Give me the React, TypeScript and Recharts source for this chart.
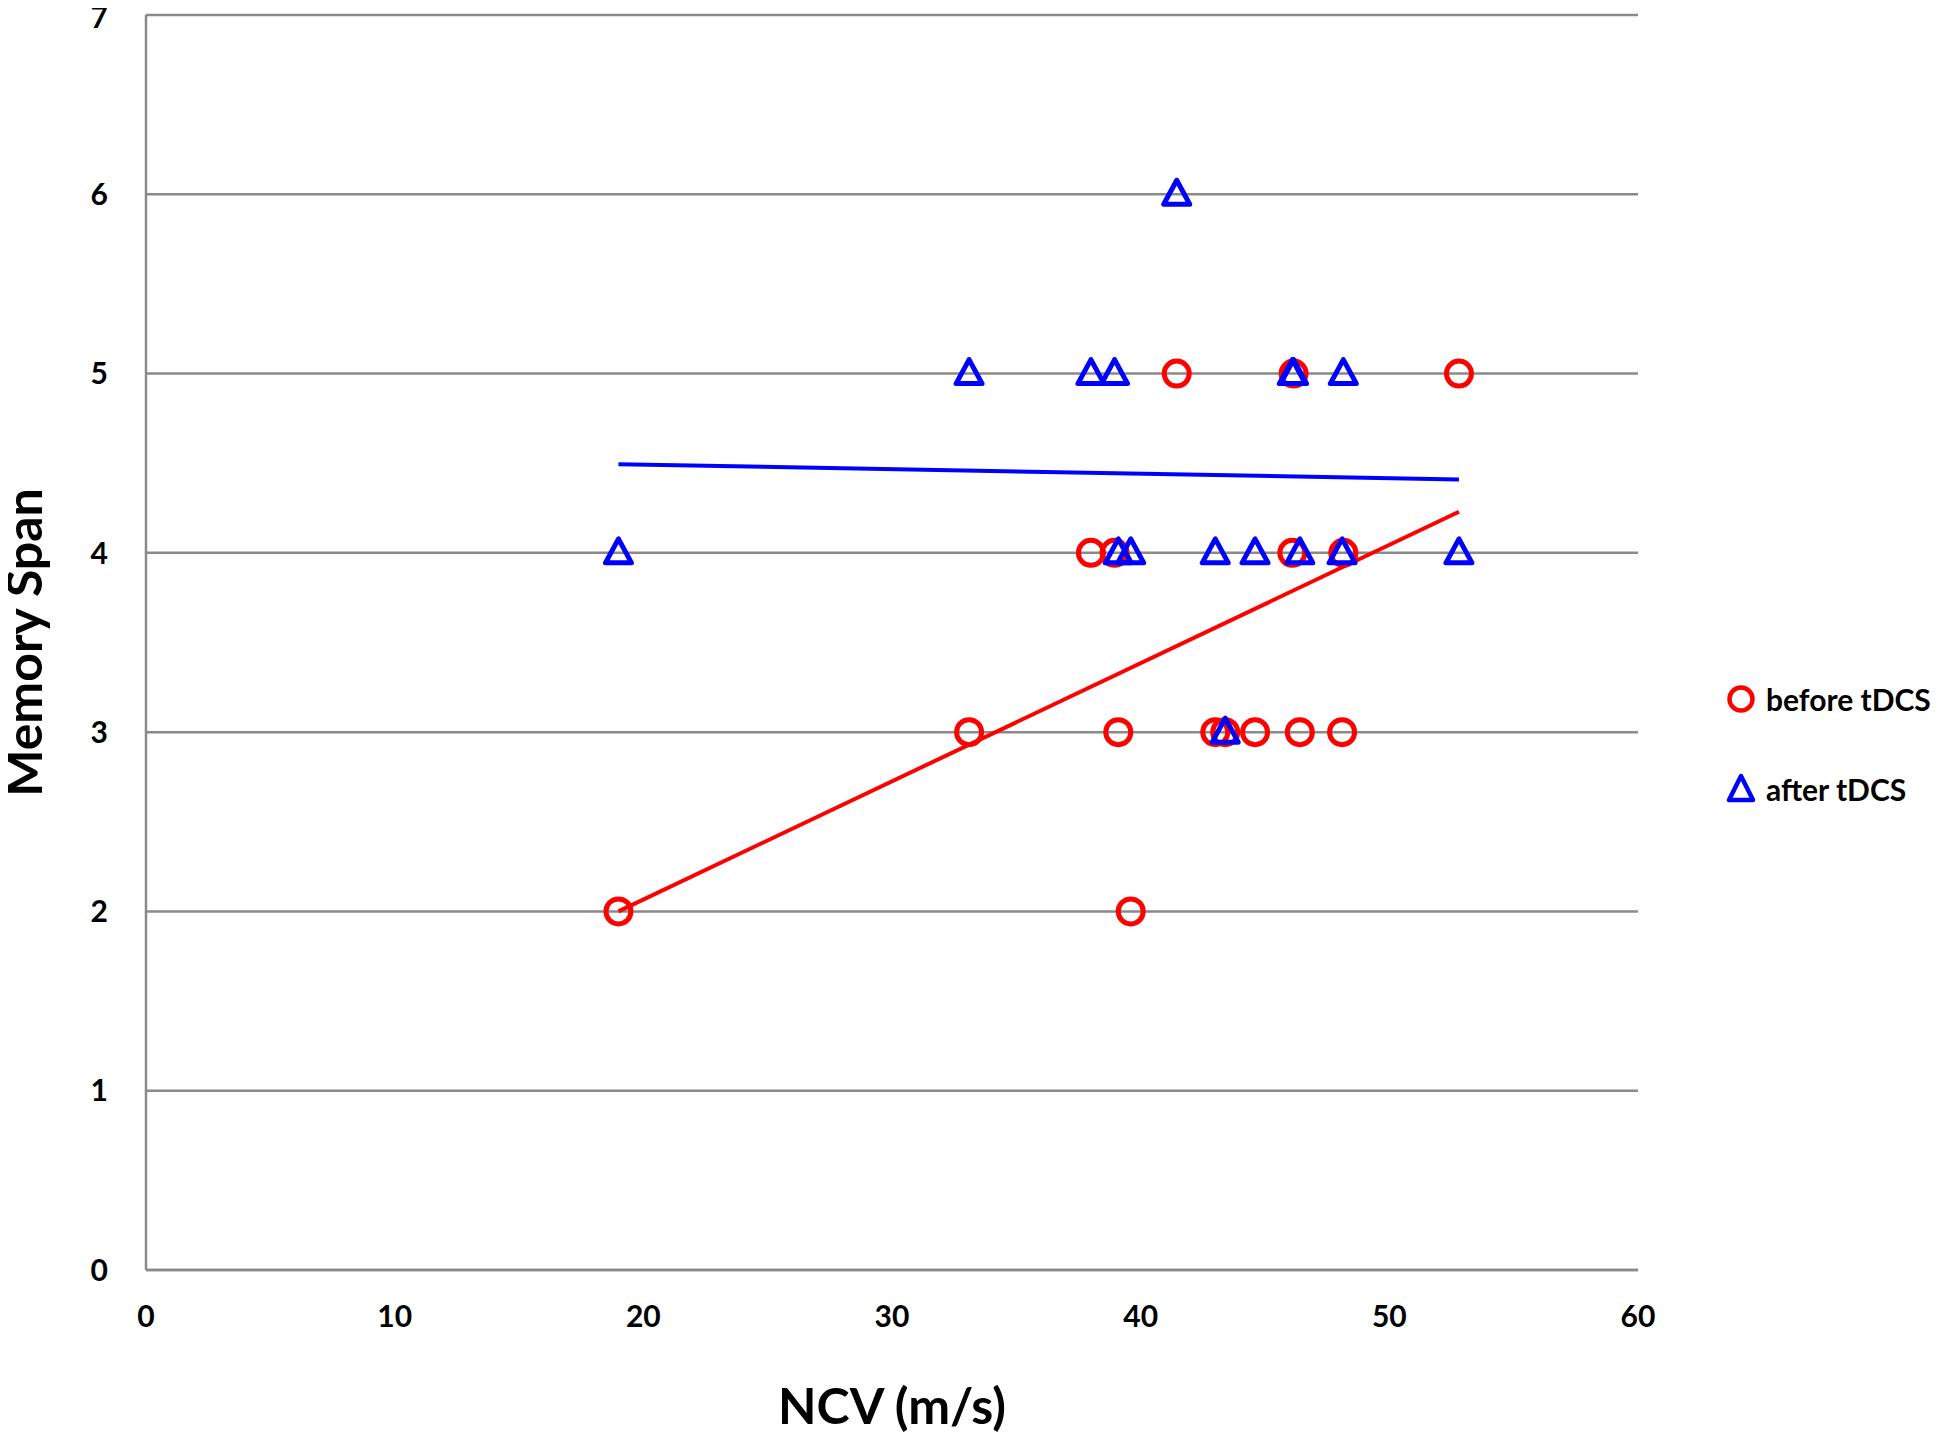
import React from "react";
import {
  ComposedChart, Scatter, XAxis, YAxis, CartesianGrid,
} from "recharts";

// NCV of each subject (m/s) and memory span before / after tDCS
const ncv = [19.0, 33.1, 38.0, 38.95, 39.1, 39.6, 41.45, 43.0, 43.4, 44.6, 46.1, 46.15, 46.4, 48.1, 48.15, 52.8];
const spanBefore = [2, 3, 4, 4, 3, 2, 5, 3, 3, 3, 4, 5, 3, 3, 4, 5];
const spanAfter = [4, 5, 5, 5, 4, 4, 6, 4, 3, 4, 5, 5, 4, 4, 5, 4];

const xTicks = [0, 10, 20, 30, 40, 50, 60];
const yTicks = [0, 1, 2, 3, 4, 5, 6, 7];

const FONT = "Lato, 'Open Sans', sans-serif";
const RED = "#ff0000";
const BLUE = "#0000ff";
const GRID = "#8a8a8a";

const before = ncv.map((x, i) => ({ x, y: spanBefore[i] }));
const after = ncv.map((x, i) => ({ x, y: spanAfter[i] }));

// least-squares trend line over the range of the data
function trend(pts: { x: number; y: number }[]) {
  const n = pts.length;
  const mx = pts.reduce((s, p) => s + p.x, 0) / n;
  const my = pts.reduce((s, p) => s + p.y, 0) / n;
  let sxy = 0, sxx = 0;
  pts.forEach((p) => { sxy += (p.x - mx) * (p.y - my); sxx += (p.x - mx) ** 2; });
  const b = sxy / sxx;
  const a = my - b * mx;
  const lo = Math.min(...pts.map((p) => p.x));
  const hi = Math.max(...pts.map((p) => p.x));
  return [{ x: lo, y: a + b * lo }, { x: hi, y: a + b * hi }];
}

const trendBefore = trend(before);
const trendAfter = trend(after);

const Ring = ({ cx, cy }: any) => (
  <circle cx={cx} cy={cy} r={12.5} fill="none" stroke={RED} strokeWidth={5} />
);

const Tri = ({ cx, cy }: any) => (
  <polygon
    points={`${cx},${cy - 14} ${cx - 13},${cy + 10} ${cx + 13},${cy + 10}`}
    fill="none" stroke={BLUE} strokeWidth={5} strokeLinejoin="round"
  />
);

const Nothing = () => <g />;

const tick = { fontSize: 30, fontWeight: 700, fill: "#000", fontFamily: FONT };

export default function App() {
  // pulled over the body margin so chart pixels match the page
  return (
    <div style={{ position: "relative", width: 1950, height: 1437, margin: "-8px 0 0 -8px" }}>
      <ComposedChart
        width={1950} height={1437}
        margin={{ top: 15, right: 312, left: 0, bottom: 67 }}
      >
        <CartesianGrid vertical={false} stroke={GRID} strokeWidth={2.5} />
        <XAxis
          type="number" dataKey="x" domain={[0, 60]} ticks={xTicks}
          height={100} tick={tick} tickLine={false} tickSize={0} tickMargin={36}
          axisLine={{ stroke: GRID, strokeWidth: 2.5 }}
          label={({ viewBox }: any) => (
            <text x={viewBox.x + viewBox.width / 2} y={viewBox.y + 135}
              textAnchor="middle" dominantBaseline="central"
              fontSize={50} fontWeight={700} fontFamily={FONT} fill="#000">
              NCV (m/s)
            </text>
          )}
        />
        <YAxis
          type="number" dataKey="y" domain={[0, 7]} ticks={yTicks}
          width={146} tick={tick} tickLine={false} tickSize={0} tickMargin={38}
          axisLine={{ stroke: GRID, strokeWidth: 2.5 }}
          label={({ viewBox }: any) => {
            const cx = viewBox.x + 23;
            const cy = viewBox.y + viewBox.height / 2;
            return (
              <text x={cx} y={cy} transform={`rotate(-90 ${cx} ${cy})`}
                textAnchor="middle" dominantBaseline="central"
                fontSize={50} fontWeight={700} fontFamily={FONT} fill="#000">
                Memory Span
              </text>
            );
          }}
        />
        <Scatter data={trendBefore} shape={Nothing} line={{ stroke: RED, strokeWidth: 4 }}
          isAnimationActive={false} legendType="none" />
        <Scatter data={trendAfter} shape={Nothing} line={{ stroke: BLUE, strokeWidth: 4 }}
          isAnimationActive={false} legendType="none" />
        <Scatter name="before tDCS" data={before} shape={Ring} isAnimationActive={false} />
        <Scatter name="after tDCS" data={after} shape={Tri} isAnimationActive={false} />
      </ComposedChart>

      <div style={{ position: "absolute", left: 1725, top: 671, fontFamily: FONT, fontWeight: 700, fontSize: 30, color: "#000" }}>
        <div style={{ display: "flex", alignItems: "center", height: 56 }}>
          <svg width={32} height={32} style={{ marginRight: 9 }}>
            <circle cx={16} cy={16} r={11.5} fill="none" stroke={RED} strokeWidth={4.5} />
          </svg>
          before tDCS
        </div>
        <div style={{ display: "flex", alignItems: "center", height: 56, marginTop: 34 }}>
          <svg width={32} height={32} style={{ marginRight: 9 }}>
            <polygon points="16,3 4,27 28,27" fill="none" stroke={BLUE} strokeWidth={4.5} strokeLinejoin="round" />
          </svg>
          after tDCS
        </div>
      </div>
    </div>
  );
}
